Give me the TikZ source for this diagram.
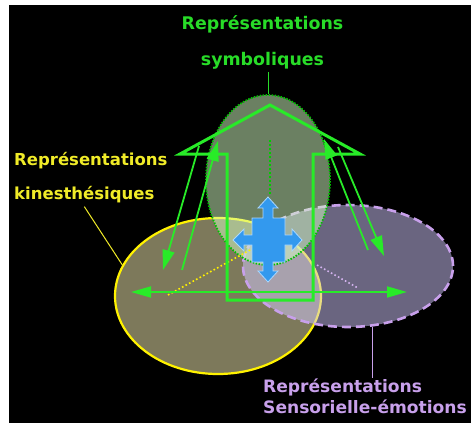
\documentclass[tikz,border=0pt]{standalone}
\usepackage{fontspec}
\setmainfont{DejaVu Sans}
\usetikzlibrary{shapes.geometric,arrows.meta}
\definecolor{lgreen}{RGB}{40,235,40}
\definecolor{tgreen}{RGB}{40,220,40}
\definecolor{tyellow}{RGB}{240,235,40}
\definecolor{tpurple}{RGB}{200,160,235}
\definecolor{fgreen}{RGB}{214,255,196}
\definecolor{fyellow}{RGB}{250,242,182}
\definecolor{fpurple}{RGB}{212,202,255}
\definecolor{bcross}{RGB}{51,153,238}
\definecolor{lcross}{RGB}{170,215,255}
\begin{document}
\begin{tikzpicture}[x=1pt,y=-1pt,
  lab/.style={inner sep=0pt,font=\bfseries},
  ell/.style={ellipse,inner sep=0pt,fill opacity=0.5,draw opacity=1},
  garrow/.style={draw=lgreen,line width=1.8pt,-{Triangle[length=20pt,width=12pt]}},
  gdarrow/.style={draw=lgreen,line width=1.8pt,{Triangle[length=20pt,width=11pt]}-{Triangle[length=20pt,width=11pt]}},
  dotl/.style={line width=1.6pt,dash pattern=on 1.6pt off 2.4pt}
]
\useasboundingbox (0,0) rectangle (471,423);
\fill[white] (0,0) rectangle (471,423);
\fill[black] (9,5) rectangle (471,423);

% ellipses
\node[ell,draw=yellow,line width=2.2pt,fill=fyellow,minimum width=206pt,minimum height=156pt] (yell) at (218,296) {};
\node[ell,draw=tpurple,line width=2.6pt,dash pattern=on 9pt off 5pt,fill=fpurple,minimum width=210pt,minimum height=122pt] (pell) at (348,266) {};
\node[ell,draw=green!75!black,line width=1.8pt,dash pattern=on 1.5pt off 1.5pt,fill=fgreen,minimum width=124pt,minimum height=170pt] (gell) at (268,180) {};

% labels
\node[lab,text=tgreen,anchor=base,font=\bfseries\fontsize{17.4}{20}\selectfont] (sym1) at (262.5,29) {Représentations};
\node[lab,text=tgreen,anchor=base,font=\bfseries\fontsize{17.4}{20}\selectfont] (sym2) at (262.5,65) {symboliques};
\node[lab,text=tyellow,anchor=base west,font=\bfseries\fontsize{16.5}{19}\selectfont] (kin1) at (14,165) {Représentations};
\node[lab,text=tyellow,anchor=base west,font=\bfseries\fontsize{16.5}{19}\selectfont] (kin2) at (14,199) {kinesthésiques};
\node[lab,text=tpurple,anchor=base west,font=\bfseries\fontsize{17.1}{19}\selectfont] (sen1) at (263,392) {Représentations};
\node[lab,text=tpurple,anchor=base west,font=\bfseries\fontsize{17.1}{19}\selectfont] (sen2) at (263,413) {Sensorielle-émotions};

% label connectors
\draw[tgreen,line width=1pt] (gell.north |- sym2.south) ++(0,3) -- (gell.north);
\draw[tyellow,line width=1pt] (kin2.south) ++(0,4) -- (yell.162);
\draw[tpurple,line width=1.2pt] (pell.-68) -- (pell.-68 |- sen1.north);

% dotted lines
\coordinate (gd1) at (270,140); \coordinate (gd2) at (270,196);
\coordinate (yd1) at (168,295); \coordinate (yd2) at (250,250);
\coordinate (pd1) at (317,265); \coordinate (pd2) at (358,288);
\draw[dotl,draw=green!80!black] (gd1) -- (gd2);
\draw[dotl,draw=yellow] (yd1) -- (yd2);
\draw[dotl,draw=tpurple!80!white] (pd1) -- (pd2);

% big green arrow outline
\draw[lgreen,line width=3pt,line join=miter] (227,300) -- (227,154) -- (180,154) -- (270,105) -- (360,154) -- (313,154) -- (313,300) -- cycle;

% green arrows
\coordinate (a1s) at (199,146); \coordinate (a1e) at (163,270);
\coordinate (a2s) at (182,270); \coordinate (a2e) at (218,141);
\coordinate (a3s) at (368,250); \coordinate (a3e) at (324,139);
\coordinate (a4s) at (338,147); \coordinate (a4e) at (384,256);
\coordinate (hl) at (131,292); \coordinate (hr) at (407,292);
\draw[garrow] (a1s) -- (a1e);
\draw[garrow] (a2s) -- (a2e);
\draw[garrow] (a3s) -- (a3e);
\draw[garrow] (a4s) -- (a4e);
\draw[gdarrow] (hl) -- (hr);

% blue cross
\draw[fill=bcross,draw=lcross,line width=0.8pt,line join=miter]
 (252,218) -- (263,218) -- (263,208) -- (258,208) -- (268,197) -- (278,208) -- (273,208) -- (273,218)
 -- (285,218) -- (285,235) -- (292,235) -- (292,229) -- (302,240) -- (292,251) -- (292,245) -- (285,245)
 -- (285,262) -- (273,262) -- (273,271) -- (278,271) -- (268,282) -- (258,271) -- (263,271) -- (263,262)
 -- (252,262) -- (252,245) -- (244,245) -- (244,251) -- (233,240) -- (244,229) -- (244,235) -- (252,235) -- cycle;
\end{tikzpicture}
\end{document}
